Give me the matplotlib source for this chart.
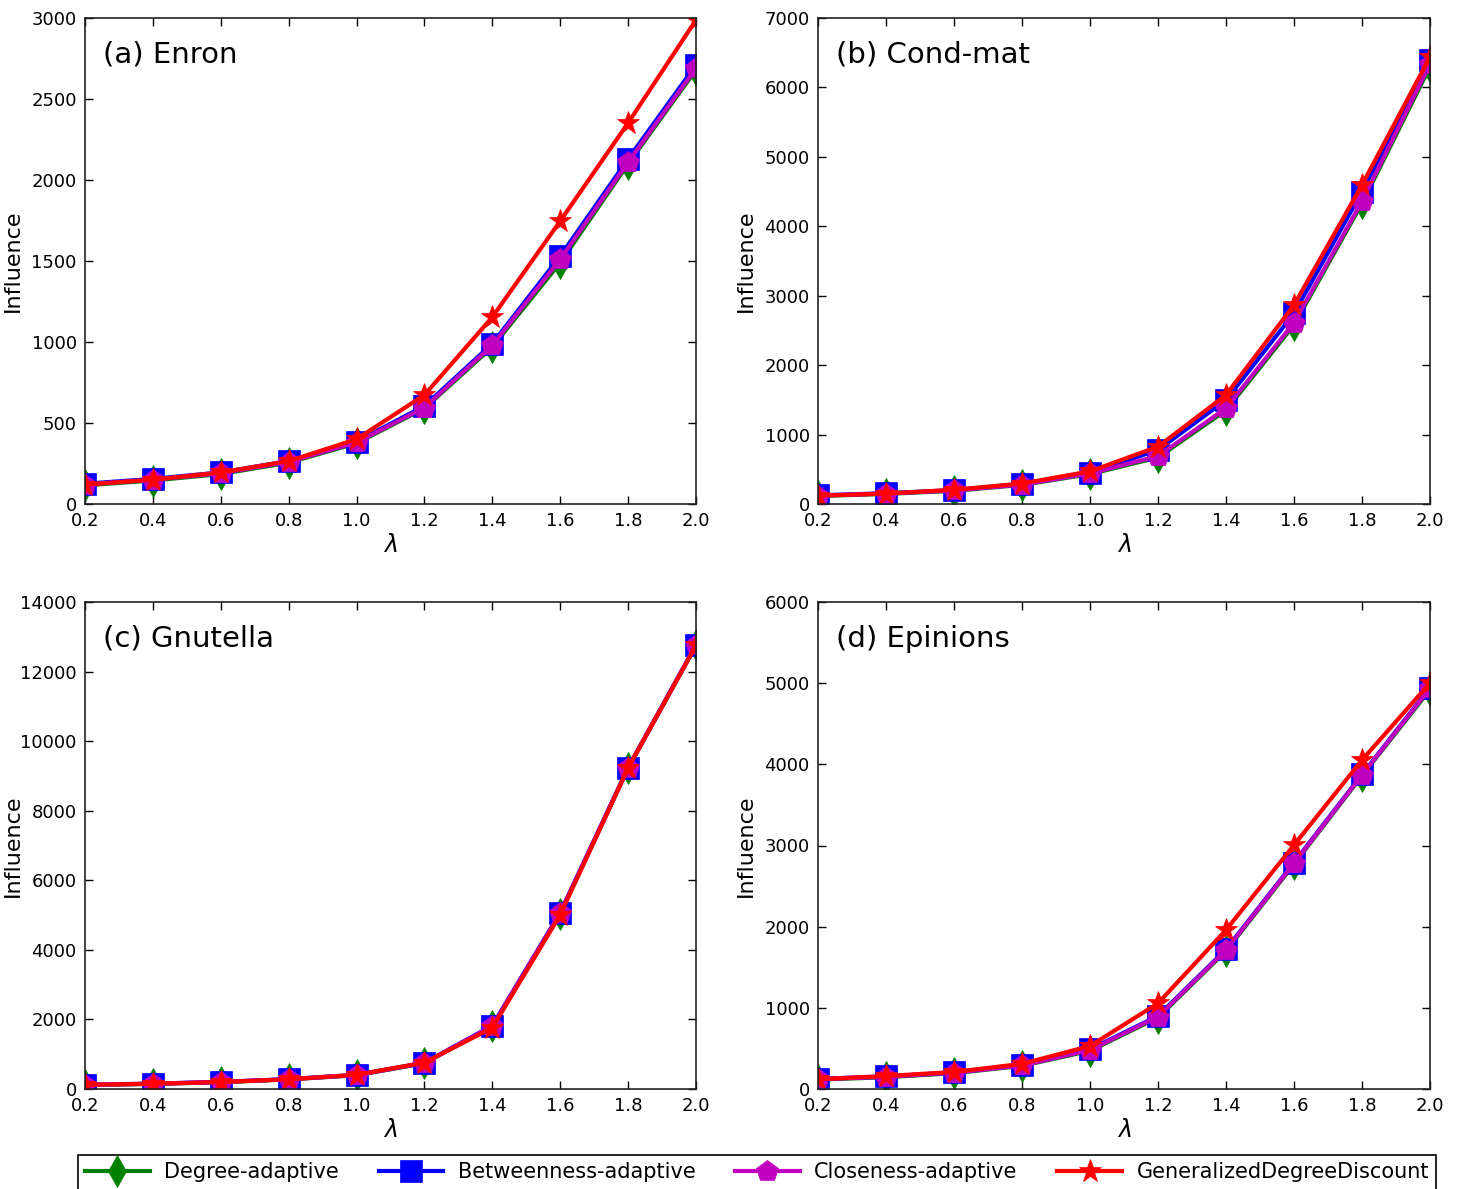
import matplotlib
matplotlib.use("Agg")
import matplotlib.pyplot as plt

lam = [0.2, 0.4, 0.6, 0.8, 1.0, 1.2, 1.4, 1.6, 1.8, 2.0]

# (a) Enron
enron_degree = [115, 145, 185, 255, 375, 590, 970, 1490, 2100, 2680]
enron_betw   = [125, 155, 195, 265, 385, 605, 990, 1530, 2130, 2710]
enron_close  = [120, 150, 190, 260, 380, 595, 980, 1510, 2110, 2690]
enron_gdd    = [120, 150, 195, 265, 400, 673, 1154, 1747, 2352, 2988]

# (b) Cond-mat
cond_degree = [115, 145, 190, 275, 430, 670, 1350, 2580, 4330, 6300]
cond_betw   = [125, 155, 200, 290, 450, 778, 1498, 2746, 4498, 6395]
cond_close  = [120, 150, 195, 280, 440, 690, 1380, 2610, 4360, 6340]
cond_gdd    = [120, 150, 205, 295, 470, 826, 1570, 2866, 4595, 6440]

# (c) Gnutella
gnu_degree = [115, 145, 195, 275, 395, 740, 1800, 5040, 9220, 12750]
gnu_betw   = [125, 155, 205, 285, 405, 755, 1820, 5070, 9240, 12770]
gnu_close  = [120, 150, 200, 280, 400, 747, 1811, 5059, 9227, 12762]
gnu_gdd    = [120, 150, 200, 280, 410, 760, 1760, 5010, 9230, 12750]

# (d) Epinions
epi_degree = [115, 145, 195, 285, 470, 880, 1700, 2770, 3860, 4920]
epi_betw   = [125, 155, 205, 295, 490, 900, 1720, 2790, 3875, 4945]
epi_close  = [120, 150, 200, 290, 480, 891, 1712, 2781, 3868, 4937]
epi_gdd    = [120, 160, 210, 310, 530, 1056, 1959, 3006, 4053, 5002]

panels = [
    ("(a) Enron", [enron_degree, enron_betw, enron_close, enron_gdd], 3000, 500),
    ("(b) Cond-mat", [cond_degree, cond_betw, cond_close, cond_gdd], 7000, 1000),
    ("(c) Gnutella", [gnu_degree, gnu_betw, gnu_close, gnu_gdd], 14000, 2000),
    ("(d) Epinions", [epi_degree, epi_betw, epi_close, epi_gdd], 6000, 1000),
]

series_names = ["Degree-adaptive", "Betweenness-adaptive", "Closeness-adaptive",
                "GeneralizedDegreeDiscount"]
colors = ["#008000", "#0000ff", "#bf00bf", "#ff0000"]
markers = ["d", "s", "p", "*"]
msizes = [16, 16, 16, 17]

xticks = [0.2, 0.4, 0.6, 0.8, 1.0, 1.2, 1.4, 1.6, 1.8, 2.0]

W, H = 1461, 1189
fig = plt.figure(figsize=(W / 100, H / 100), dpi=100)
fig.patch.set_facecolor("white")

boxes = [
    (85, 18, 696, 504),
    (818, 18, 1430, 504),
    (85, 602, 696, 1089),
    (818, 602, 1430, 1089),
]

handles = None
for i, ((title, data, ymax, ystep), (x0, y0, x1, y1)) in enumerate(zip(panels, boxes)):
    ax = fig.add_axes([x0 / W, 1 - y1 / H, (x1 - x0) / W, (y1 - y0) / H])
    hs = []
    for vals, c, m, ms, name in zip(data, colors, markers, msizes, series_names):
        h, = ax.plot(lam, vals, color=c, marker=m, markersize=ms, lw=3,
                     markeredgecolor=c, markeredgewidth=0.5, label=name)
        hs.append(h)
    handles = hs
    ax.set_xlim(0.2, 2.0)
    ax.set_ylim(0, ymax)
    ax.set_xticks(xticks)
    ax.set_xticklabels([f"{v:.1f}" for v in xticks])
    ax.set_yticks(list(range(0, ymax + 1, ystep)))
    ax.tick_params(direction="in", top=True, right=True, length=6, width=1,
                   labelsize=13, pad=6)
    for s in ax.spines.values():
        s.set_linewidth(1.2)
        s.set_color("#222222")
    ax.set_xlabel(r"$\lambda$", fontsize=17, labelpad=2)
    ax.set_ylabel("Influence", fontsize=16, labelpad=6)
    if i == 2:
        # keep the label inside the figure at its left edge
        ax.yaxis.set_label_coords(-(85 - 23) / (x1 - x0), 0.5)
    ax.text(0.03, 0.925, title, transform=ax.transAxes, fontsize=21,
            ha="left", va="center")

leg = fig.legend(handles, series_names, loc="upper center",
                 bbox_to_anchor=(757 / W, 1 - 1155 / H), ncol=4, fontsize=15,
                 numpoints=1, handlelength=3.1, handletextpad=0.7,
                 columnspacing=1.9, borderpad=0.35, fancybox=False,
                 framealpha=1, edgecolor="black", borderaxespad=0)
leg.get_frame().set_linewidth(1.2)

fig.savefig("out.png", dpi=100, facecolor="white")
